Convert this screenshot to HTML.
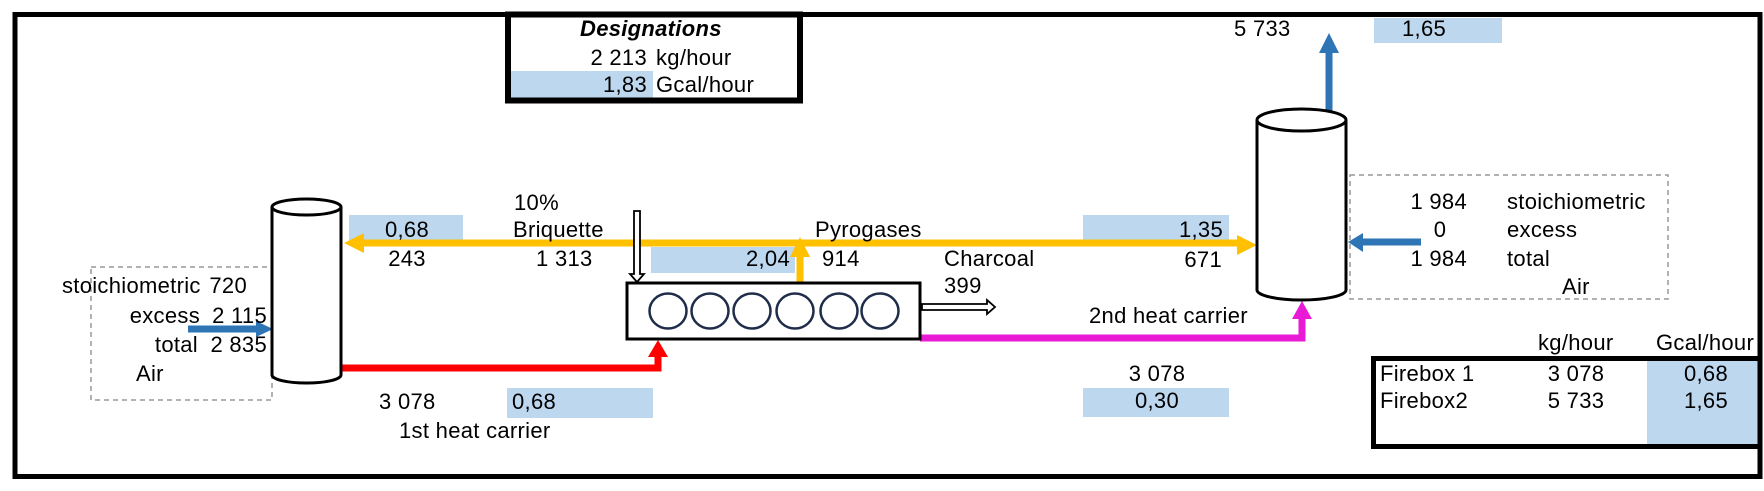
<!DOCTYPE html>
<html><head><meta charset="utf-8"><style>
html,body{margin:0;padding:0;background:#fff;}
svg{display:block;}
text{font-family:"Liberation Sans",Arial,sans-serif;font-size:22px;letter-spacing:0.3px;fill:#000;}
</style></head><body>
<svg width="1764" height="491" viewBox="0 0 1764 491" xmlns="http://www.w3.org/2000/svg">
<rect x="15" y="14.5" width="1745" height="462" fill="none" stroke="#000" stroke-width="5"/>

<rect x="511" y="71" width="142" height="27" fill="#bdd7ee"/>
<rect x="508" y="14.5" width="292" height="86" fill="none" stroke="#000" stroke-width="6"/>
<text x="580" y="36" style="font-weight:bold;font-style:italic">Designations</text>
<text x="647" y="65" text-anchor="end">2 213</text><text x="656" y="65">kg/hour</text>
<text x="647" y="92" text-anchor="end">1,83</text><text x="656" y="92">Gcal/hour</text>

<rect x="349" y="215" width="114" height="25" fill="#bdd7ee"/>
<rect x="651" y="247" width="144" height="26" fill="#bdd7ee"/>
<rect x="1083" y="215" width="146" height="25" fill="#bdd7ee"/>
<rect x="1374" y="18" width="128" height="25" fill="#bdd7ee"/>
<rect x="507" y="388" width="146" height="30" fill="#bdd7ee"/>
<rect x="1083" y="388" width="146" height="29" fill="#bdd7ee"/>

<rect x="91" y="267" width="181" height="133" fill="none" stroke="#999" stroke-width="1.5" stroke-dasharray="5,4"/>
<rect x="1350" y="175" width="318" height="124" fill="none" stroke="#999" stroke-width="1.5" stroke-dasharray="5,4"/>

<line x1="362" y1="243" x2="1238" y2="243" stroke="#ffc000" stroke-width="7"/>
<polygon points="344,243 364,233 364,253" fill="#ffc000"/>
<polygon points="1257,245 1237,235 1237,255" fill="#ffc000"/>
<line x1="800" y1="283" x2="800" y2="255" stroke="#ffc000" stroke-width="7"/>
<polygon points="800,237 790,257 810,257" fill="#ffc000"/>

<polyline points="341,368 658,368 658,355" fill="none" stroke="#ff0000" stroke-width="7"/>
<polygon points="658,340 648,357 668,357" fill="#ff0000"/>

<polyline points="920,338 1302,338 1302,316" fill="none" stroke="#e81ad6" stroke-width="7"/>
<polygon points="1302,301 1292,319 1312,319" fill="#e81ad6"/>

<line x1="188" y1="329" x2="258" y2="329" stroke="#2e75b6" stroke-width="7"/>
<polygon points="273,329 256,321 256,337" fill="#2e75b6"/>
<line x1="1421" y1="242" x2="1360" y2="242" stroke="#2e75b6" stroke-width="7"/>
<polygon points="1348,242 1363,233 1363,252" fill="#2e75b6"/>
<line x1="1329" y1="112" x2="1329" y2="50" stroke="#2e75b6" stroke-width="7"/>
<polygon points="1329,33 1319,53 1339,53" fill="#2e75b6"/>

<path d="M272,207 L272,375 A34.5,8 0 0 0 341,375 L341,207" fill="#fff" stroke="#000" stroke-width="3"/>
<ellipse cx="306.5" cy="207" rx="34.5" ry="8" fill="#fff" stroke="#000" stroke-width="3"/>
<path d="M1257,120 L1257,290 A44.5,10 0 0 0 1346,290 L1346,120" fill="#fff" stroke="#000" stroke-width="3"/>
<ellipse cx="1301.5" cy="120" rx="44.5" ry="11" fill="#fff" stroke="#000" stroke-width="3"/>

<rect x="627" y="283" width="293" height="56" fill="#fff" stroke="#000" stroke-width="3"/>
<g fill="none" stroke="#1f2d4a" stroke-width="2.5">
<ellipse cx="668" cy="311" rx="18.5" ry="17.5"/>
<ellipse cx="710" cy="311" rx="18.5" ry="17.5"/>
<ellipse cx="752" cy="311" rx="18.5" ry="17.5"/>
<ellipse cx="795" cy="311" rx="18.5" ry="17.5"/>
<ellipse cx="839" cy="311" rx="18.5" ry="17.5"/>
<ellipse cx="880" cy="311" rx="18.5" ry="17.5"/>
</g>
<path d="M634,211 L640,211 L640,274 L644,274 L637,282 L630,274 L634,274 Z" fill="#fff" stroke="#000" stroke-width="1.8"/>
<path d="M922,304 L987,304 L987,300 L995,307 L987,314 L987,310 L922,310 Z" fill="#fff" stroke="#000" stroke-width="1.8"/>

<text x="62" y="293">stoichiometric</text><text x="247" y="293" text-anchor="end">720</text>
<text x="200" y="323" text-anchor="end">excess</text><text x="267" y="323" text-anchor="end">2 115</text>
<text x="198" y="352" text-anchor="end">total</text><text x="267" y="352" text-anchor="end">2 835</text>
<text x="136" y="381">Air</text>
<text x="407" y="237" text-anchor="middle">0,68</text>
<text x="407" y="266" text-anchor="middle">243</text>
<text x="514" y="210">10%</text>
<text x="513" y="237">Briquette</text>
<text x="536" y="266">1 313</text>
<text x="790" y="266" text-anchor="end">2,04</text>
<text x="822" y="266">914</text>
<text x="815" y="237">Pyrogases</text>
<text x="944" y="266">Charcoal</text>
<text x="944" y="293">399</text>
<text x="379" y="409">3 078</text>
<text x="512" y="409">0,68</text>
<text x="399" y="438">1st heat carrier</text>

<text x="1223" y="237" text-anchor="end">1,35</text>
<text x="1222" y="267" text-anchor="end">671</text>
<text x="1089" y="323">2nd heat carrier</text>
<text x="1157" y="381" text-anchor="middle">3 078</text>
<text x="1157" y="408" text-anchor="middle">0,30</text>
<text x="1234" y="36">5 733</text>
<text x="1402" y="36">1,65</text>
<text x="1467" y="209" text-anchor="end">1 984</text>
<text x="1440" y="237" text-anchor="middle">0</text>
<text x="1467" y="266" text-anchor="end">1 984</text>
<text x="1507" y="209">stoichiometric</text>
<text x="1507" y="237">excess</text>
<text x="1507" y="266">total</text>
<text x="1562" y="294">Air</text>

<text x="1538" y="350">kg/hour</text>
<text x="1656" y="350">Gcal/hour</text>
<rect x="1647" y="361" width="113" height="83" fill="#bdd7ee"/>
<rect x="1373.5" y="358.5" width="386.5" height="88" fill="none" stroke="#000" stroke-width="5"/>
<text x="1380" y="381">Firebox 1</text>
<text x="1380" y="408">Firebox2</text>
<text x="1576" y="381" text-anchor="middle">3 078</text>
<text x="1576" y="408" text-anchor="middle">5 733</text>
<text x="1728" y="381" text-anchor="end">0,68</text>
<text x="1728" y="408" text-anchor="end">1,65</text>
</svg>
</body></html>
